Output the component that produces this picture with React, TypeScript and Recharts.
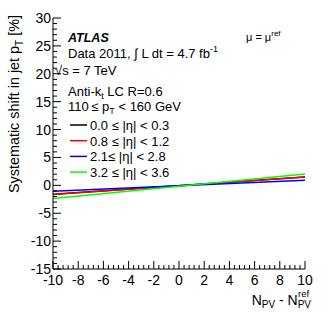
import React from 'react';
import { LineChart, Line, XAxis, YAxis } from 'recharts';

const xValues = [-10, 10];
const eta00_03 = [-1.6, 1.5];
const eta08_12 = [-1.65, 1.5];
const eta21_28 = [-1.05, 0.9];
const eta32_36 = [-2.35, 2.05];

const xMajorTicks = [-10, -8, -6, -4, -2, 0, 2, 4, 6, 8, 10];
const yMajorTicks = [-15, -10, -5, 0, 5, 10, 15, 20, 25, 30];

const seriesNames = ['0.0 \u2264 |\u03b7| < 0.3', '0.8 \u2264 |\u03b7| < 1.2', '2.1\u2264 |\u03b7| < 2.8', '3.2 \u2264 |\u03b7| < 3.6'];
const seriesColors = ['#000000', '#ff0000', '#0000ff', '#00ff00'];
const seriesKeys = ['a', 'b', 'c', 'd'];

const data = xValues.map((x, i) => ({
  x,
  a: eta00_03[i],
  b: eta08_12[i],
  c: eta21_28[i],
  d: eta32_36[i],
}));

const round = (v: number) => Math.round(v * 1000) / 1000;
const withMinors = (majors: number[], n: number) => {
  const out: number[] = [];
  for (let i = 0; i < majors.length; i++) {
    out.push(majors[i]);
    if (i < majors.length - 1) {
      const step = (majors[i + 1] - majors[i]) / n;
      for (let k = 1; k < n; k++) out.push(round(majors[i] + k * step));
    }
  }
  return out;
};
const xTicks = withMinors(xMajorTicks, 5);
const yTicks = withMinors(yMajorTicks, 5);

const FONT = '"Liberation Sans", Arial, Helvetica, sans-serif';

const XTick = (props: any) => {
  const { x, y, payload, side } = props;
  const v = payload.value;
  const major = xMajorTicks.includes(v);
  const len = major ? 8 : 4;
  const top = side === 'top';
  return (
    <g>
      <line x1={x} x2={x} y1={y} y2={top ? y + len : y - len} stroke="#000" strokeWidth={1} />
      {!top && major && (
        <text x={x} y={y + 16} textAnchor="middle" fontSize={14} fontFamily={FONT} fill="#000">
          {v}
        </text>
      )}
    </g>
  );
};

const YTick = (props: any) => {
  const { x, y, payload, side } = props;
  const v = payload.value;
  const major = yMajorTicks.includes(v);
  const len = major ? 8 : 4;
  const right = side === 'right';
  return (
    <g>
      <line x1={x} x2={right ? x - len : x + len} y1={y} y2={y} stroke="#000" strokeWidth={1} />
      {!right && major && (
        <text x={x - 2} y={y + 5} textAnchor="end" fontSize={14} fontFamily={FONT} fill="#000">
          {v}
        </text>
      )}
    </g>
  );
};

export default function App() {
  const legendX = 70;
  const legendY0 = 125;
  const legendDy = 15.7;
  return (
    <div style={{ position: 'absolute', left: 0, top: 0, width: 332, height: 319, background: '#fff' }}>
      <LineChart width={332} height={319} data={data} margin={{ top: 18, right: 27, bottom: 0, left: 0 }}>
        <XAxis
          xAxisId="bottom"
          dataKey="x"
          type="number"
          domain={[-10, 10]}
          ticks={xTicks}
          interval={0}
          tickSize={0}
          tickMargin={0}
          tickLine={false}
          height={50}
          axisLine={{ stroke: '#000' }}
          tick={<XTick side="bottom" />}
          allowDataOverflow
        />
        <XAxis
          xAxisId="top"
          orientation="top"
          dataKey="x"
          type="number"
          domain={[-10, 10]}
          ticks={xTicks}
          interval={0}
          tickSize={0}
          tickMargin={0}
          tickLine={false}
          height={0}
          axisLine={{ stroke: '#000' }}
          tick={<XTick side="top" />}
          allowDataOverflow
        />
        <YAxis
          yAxisId="left"
          type="number"
          domain={[-15, 30]}
          ticks={yTicks}
          interval={0}
          tickSize={0}
          tickMargin={0}
          tickLine={false}
          width={53}
          axisLine={{ stroke: '#000' }}
          tick={<YTick side="left" />}
          allowDataOverflow
        />
        <YAxis
          yAxisId="right"
          orientation="right"
          type="number"
          domain={[-15, 30]}
          ticks={yTicks}
          interval={0}
          tickSize={0}
          tickMargin={0}
          tickLine={false}
          width={0}
          axisLine={{ stroke: '#000' }}
          tick={<YTick side="right" />}
          allowDataOverflow
        />
        {seriesKeys.map((k, i) => (
          <Line
            key={k}
            xAxisId="bottom"
            yAxisId="left"
            dataKey={k}
            type="linear"
            stroke={seriesColors[i]}
            strokeWidth={1.5}
            dot={false}
            isAnimationActive={false}
          />
        ))}
      </LineChart>
      <svg width={332} height={319} style={{ position: 'absolute', left: 0, top: 0, pointerEvents: 'none' }} fontFamily={FONT}>
        <text x={68} y={42} fontSize={12.5} fontWeight="bold" fontStyle="italic">ATLAS</text>
        <text x={246} y={41} fontSize={11}>
          {'\u03bc = \u03bc'}
          <tspan dy={-5} fontSize={8}>ref</tspan>
        </text>
        <text x={68} y={58} fontSize={13}>
          {'Data 2011, \u222b L dt = 4.7 fb'}
          <tspan dy={-6} fontSize={9}>-1</tspan>
        </text>
        <text x={55} y={75} fontSize={13}>{'\u221as = 7 TeV'}</text>
        <text x={68} y={96} fontSize={13}>
          {'Anti-k'}
          <tspan dy={3} fontSize={9}>t</tspan>
          <tspan dy={-3}>{' LC R=0.6'}</tspan>
        </text>
        <text x={68} y={111} fontSize={13}>
          {'110\u2009\u2264 p'}
          <tspan dy={3} fontSize={9}>T</tspan>
          <tspan dy={-3}>{' < 160 GeV'}</tspan>
        </text>
        {seriesNames.map((name, i) => (
          <g key={name}>
            <line x1={legendX} x2={legendX + 17} y1={legendY0 + i * legendDy} y2={legendY0 + i * legendDy} stroke={seriesColors[i]} strokeWidth={1.5} />
            <text x={legendX + 20} y={legendY0 + i * legendDy + 5} fontSize={13}>{name}</text>
          </g>
        ))}
        <text x={311} y={305} fontSize={14} textAnchor="end">
          {'N'}
          <tspan dy={3} fontSize={10}>PV</tspan>
          <tspan dy={-3}>{' - N'}</tspan>
          <tspan dy={3} fontSize={10}>PV</tspan>
        </text>
        <text x={298} y={297} fontSize={9.5}>ref</text>
        <text transform="translate(19, 15) rotate(-90)" fontSize={14.4} textAnchor="end">
          {'Systematic shift in jet p'}
          <tspan dy={4} fontSize={10}>T</tspan>
          <tspan dy={-4}>{'  [%]'}</tspan>
        </text>
      </svg>
    </div>
  );
}
